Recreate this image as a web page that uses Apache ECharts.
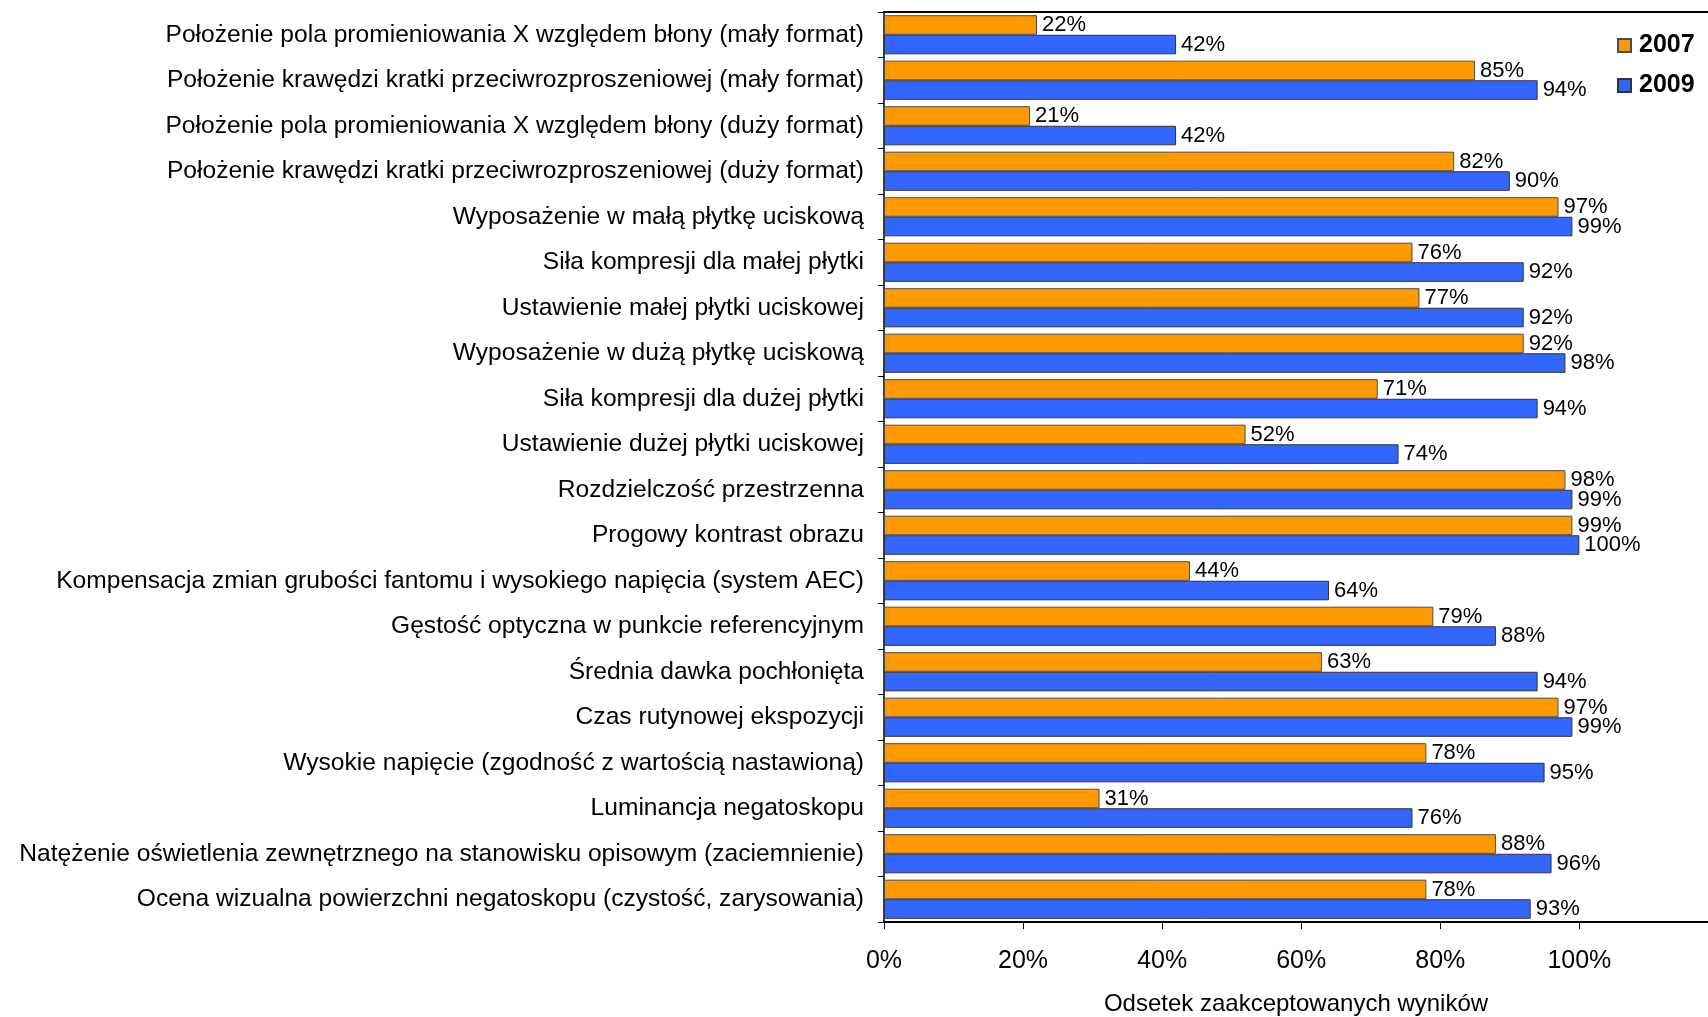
<!DOCTYPE html>
<html>
<head>
<meta charset="utf-8">
<script src="https://cdn.jsdelivr.net/npm/echarts@6/dist/echarts.min.js"></script>
<style>
  html, body { margin: 0; padding: 0; background: #fff; }
  #chart { width: 1708px; height: 1017px; }
</style>
</head>
<body>
<div id="chart"></div>
<script>
const categories = [
  'Położenie pola promieniowania X względem błony (mały format)',
  'Położenie krawędzi kratki przeciwrozproszeniowej (mały format)',
  'Położenie pola promieniowania X względem błony (duży format)',
  'Położenie krawędzi kratki przeciwrozproszeniowej (duży format)',
  'Wyposażenie w małą płytkę uciskową',
  'Siła kompresji dla małej płytki',
  'Ustawienie małej płytki uciskowej',
  'Wyposażenie w dużą płytkę uciskową',
  'Siła kompresji dla dużej płytki',
  'Ustawienie dużej płytki uciskowej',
  'Rozdzielczość przestrzenna',
  'Progowy kontrast obrazu',
  'Kompensacja zmian grubości fantomu i wysokiego napięcia (system AEC)',
  'Gęstość optyczna w punkcie referencyjnym',
  'Średnia dawka pochłonięta',
  'Czas rutynowej ekspozycji',
  'Wysokie napięcie (zgodność z wartością nastawioną)',
  'Luminancja negatoskopu',
  'Natężenie oświetlenia zewnętrznego na stanowisku opisowym (zaciemnienie)',
  'Ocena wizualna powierzchni negatoskopu (czystość, zarysowania)'
];

const values2007 = [22, 85, 21, 82, 97, 76, 77, 92, 71, 52, 98, 99, 44, 79, 63, 97, 78, 31, 88, 78];
const values2009 = [42, 94, 42, 90, 99, 92, 92, 98, 94, 74, 99, 100, 64, 88, 94, 99, 95, 76, 96, 93];

const tickValues = [0, 20, 40, 60, 80, 100];

const font = "'Liberation Sans', Arial, sans-serif";

const chart = echarts.init(document.getElementById('chart'));

const barLabel = {
  show: true,
  position: 'right',
  distance: 5,
  formatter: '{c}%',
  color: '#000',
  fontFamily: font,
  fontSize: 22
};

chart.setOption({
  animation: false,
  backgroundColor: '#fff',
  grid: { left: 884, right: 0, top: 12, bottom: 95, containLabel: false, outerBoundsMode: 'none' },
  legend: {
    orient: 'vertical',
    left: 1612,
    top: 27,
    itemWidth: 13,
    itemHeight: 13,
    itemGap: 13,
    icon: 'rect',
    data: ['2007', '2009'],
    textStyle: { fontFamily: font, fontSize: 25, fontWeight: 'bold', color: '#000', lineHeight: 27, padding: [0, 0, 0, 3] }
  },
  xAxis: [
    {
      type: 'value',
      min: 0,
      max: 118.5,
      name: 'Odsetek zaakceptowanych wyników',
      nameLocation: 'middle',
      nameGap: 70,
      nameTextStyle: { fontFamily: font, fontSize: 24, color: '#000' },
      axisLine: { show: true, lineStyle: { color: '#000', width: 2 } },
      axisTick: { show: true, length: 7, customValues: tickValues, lineStyle: { color: '#000' } },
      axisLabel: {
        customValues: tickValues,
        formatter: '{value}%',
        margin: 27,
        fontFamily: font,
        fontSize: 25,
        color: '#000'
      },
      splitLine: { show: false }
    },
    {
      type: 'value',
      position: 'top',
      min: 0,
      max: 118.5,
      axisLine: { show: true, lineStyle: { color: '#000', width: 2 } },
      axisTick: { show: false },
      axisLabel: { show: false },
      splitLine: { show: false }
    }
  ],
  yAxis: {
    type: 'category',
    inverse: true,
    data: categories,
    axisLine: { show: true, lineStyle: { color: '#000', width: 1.5 } },
    axisTick: { show: true, length: 6, lineStyle: { color: '#000' } },
    axisLabel: { margin: 20, fontFamily: font, fontSize: 24.6, color: '#000' }
  },
  series: [
    {
      name: '2007',
      type: 'bar',
      data: values2007,
      barGap: '0%',
      barCategoryGap: '14%',
      itemStyle: { color: '#FF9900', borderColor: '#4d4d4d', borderWidth: 1 },
      label: barLabel
    },
    {
      name: '2009',
      type: 'bar',
      data: values2009,
      itemStyle: { color: '#3366FF', borderColor: '#333333', borderWidth: 1 },
      label: barLabel
    }
  ]
});
</script>
</body>
</html>
